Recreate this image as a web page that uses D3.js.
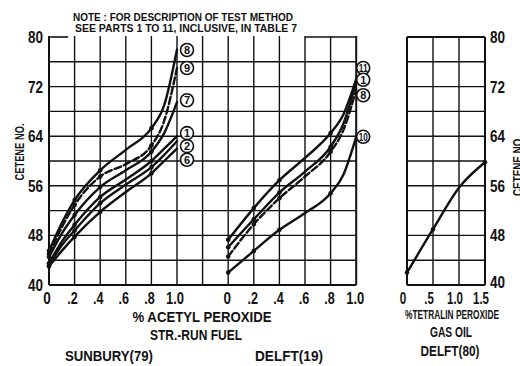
<!DOCTYPE html>
<html><head><meta charset="utf-8">
<script src="https://cdn.jsdelivr.net/npm/d3@7"></script>
<style>
html,body{margin:0;padding:0;background:#fff;}
svg{display:block;}
text{font-family:"Liberation Sans Narrow","Liberation Sans",Arial,sans-serif;font-weight:bold;fill:#111;}
</style></head>
<body><svg id="c" width="520" height="366"></svg>
<script>
// ---------- data ----------
const yTicks = [40, 48, 56, 64, 72, 80];
const yGridValues = [40, 44, 48, 52, 56, 60, 64, 68, 72, 76, 80];
const peroxTickValues = [0, 0.2, 0.4, 0.6, 0.8, 1.0];
const peroxTickLabels = ["0", ".2", ".4", ".6", ".8", "1.0"];
const gasTickValues = [0, 0.5, 1.0, 1.5];
const gasTickLabels = ["0", ".5", "1.0", "1.5"];

// Sunbury (79) straight-run fuel, % acetyl peroxide
const sunburyX = [0, 0.1, 0.2, 0.4, 0.6, 0.8, 0.9, 1.0];
const sun8 = [45.5, 50.0, 53.7, 58.5, 61.8, 65.3, 69.0, 78.0];
const sun9 = [45.0, 49.3, 52.9, 57.5, 59.5, 62.5, 66.5, 75.0];
const sun7 = [44.5, 48.3, 51.3, 55.8, 58.5, 61.5, 64.5, 69.5];
const sun1 = [43.5, 47.0, 49.7, 54.2, 57.0, 60.0, 62.0, 64.0];
const sun2 = [43.2, 46.4, 48.8, 53.2, 56.2, 59.0, 61.0, 63.2];
const sun6 = [43.0, 45.5, 47.8, 51.8, 55.0, 58.0, 60.0, 62.0];
const sunLabels = ["8", "9", "7", "1", "2", "6"];
const sunLabelY = [77.9, 75.0, 69.8, 64.5, 62.4, 60.2];

// Delft (19) straight-run fuel, % acetyl peroxide
const delftX = [0, 0.2, 0.4, 0.6, 0.8, 0.9, 1.0];
const del11 = [47.3, 52.4, 56.9, 60.5, 64.5, 67.5, 73.2];
const del1 = [46.1, 50.6, 54.9, 58.3, 62.3, 66.0, 72.8];
const del8 = [44.6, 49.8, 54.0, 57.5, 61.5, 65.0, 71.5];
const del10 = [42.0, 45.5, 48.9, 51.6, 54.8, 57.8, 63.9];
const delLabels = ["11", "1", "8", "10"];
const delLabelY = [75.0, 73.1, 70.6, 63.9];

// Delft (80) gas oil, % tetralin peroxide
const gasX = [0, 0.5, 1.0, 1.5];
const gasCetene = [42.0, 49.0, 55.7, 59.8];

const dotX = [0, 0.2, 0.4, 0.5, 0.8, 1.5];

// ---------- layout ----------
const svg = d3.select("#c");
const ink = "#111";
const y = d3.scaleLinear().domain([40, 80]).range([285, 37]);
const xGrid = d3.scaleLinear().domain([0, 2.4]).range([49, 356.2]);
const xSun = d3.scaleLinear().domain([0, 1]).range([xGrid(0), xGrid(1)]);
const xDel = d3.scaleLinear().domain([0, 1]).range([xGrid(1.4), xGrid(2.4)]);
const xGas = d3.scaleLinear().domain([0, 1.5]).range([407, 485]);

const g = svg.append("g");

// grid: main block (two panels share one grid)
g.append("g").selectAll("line").data(d3.range(0, 2.41, 0.2)).join("line")
  .attr("x1", d => xGrid(d)).attr("x2", d => xGrid(d))
  .attr("y1", y(80) - 1).attr("y2", y(40))
  .attr("stroke", ink).attr("stroke-width", d => (d < 0.01 || d > 2.39) ? 2 : 1.4);
g.append("g").selectAll("line").data(yGridValues.filter(v => v < 80)).join("line")
  .attr("x1", xGrid(0)).attr("x2", xGrid(2.4))
  .attr("y1", d => y(d)).attr("y2", d => y(d))
  .attr("stroke", ink).attr("stroke-width", d => d === 40 ? 2 : 1.4);
// top edge (broken under the note)
[[0, 0.15], [2.0, 2.4]].forEach(s => {
  g.append("line").attr("x1", xGrid(s[0])).attr("x2", xGrid(s[1]))
    .attr("y1", y(80)).attr("y2", y(80)).attr("stroke", ink).attr("stroke-width", 1.6);
});

// grid: gas oil panel
g.append("g").selectAll("line").data([0, 0.5, 1.0, 1.5]).join("line")
  .attr("x1", d => xGas(d)).attr("x2", d => xGas(d))
  .attr("y1", y(80)).attr("y2", y(40))
  .attr("stroke", ink).attr("stroke-width", d => (d === 0 || d === 1.5) ? 2 : 1.4);
g.append("g").selectAll("line").data(yGridValues).join("line")
  .attr("x1", xGas(0)).attr("x2", xGas(1.5))
  .attr("y1", d => y(d)).attr("y2", d => y(d))
  .attr("stroke", ink).attr("stroke-width", d => (d === 40 || d === 80) ? 2 : 1.4);

// ---------- curves ----------
function drawSeries(xs, xv, yv, dashed) {
  const pts = xv.map((x, i) => [x, yv[i]]);
  const line = d3.line().x(d => xs(d[0])).y(d => y(d[1])).curve(d3.curveMonotoneX);
  g.append("path").attr("d", line(pts)).attr("fill", "none")
    .attr("stroke", ink).attr("stroke-width", 2.4)
    .attr("stroke-linecap", "round")
    .attr("stroke-dasharray", dashed ? "7,3" : null);
  g.append("g").selectAll("circle").data(pts.filter(p => dotX.some(v => Math.abs(v - p[0]) < 1e-6)))
    .join("circle").attr("cx", d => xs(d[0])).attr("cy", d => y(d[1])).attr("r", 2.3).attr("fill", ink);
}
[[sun6, false], [sun2, false], [sun1, false], [sun7, false], [sun9, true], [sun8, false]]
  .forEach(s => drawSeries(xSun, sunburyX, s[0], s[1]));
[[del10, false], [del8, true], [del1, false], [del11, false]]
  .forEach(s => drawSeries(xDel, delftX, s[0], s[1]));
drawSeries(xGas, gasX, gasCetene, false);

// circled curve numbers
function circled(xpx, labels, vals) {
  const lg = g.append("g").selectAll("g").data(labels.map((l, i) => [l, vals[i]])).join("g")
    .attr("transform", d => `translate(${xpx},${y(d[1])})`);
  lg.append("circle").attr("r", 6.5).attr("fill", "#fff").attr("stroke", ink).attr("stroke-width", 1.6);
  lg.append("text").attr("text-anchor", "middle").attr("y", 3.8)
    .style("font-size", d => d[0].length > 1 ? "10px" : "11px")
    .attr("textLength", d => d[0].length > 1 ? 9 : null)
    .attr("lengthAdjust", "spacingAndGlyphs").text(d => d[0]);
}
circled(xSun(1) + 10, sunLabels, sunLabelY);
circled(xDel(1) + 7, delLabels, delLabelY);

// ---------- tick labels ----------
function tickText(sel, txt, per) {
  sel.style("font-size", "16.5px")
    .attr("textLength", d => { const t = txt(d); return t.replace(/\./g, "").length * per + (t.includes(".") ? 3 : 0); })
    .attr("lengthAdjust", "spacingAndGlyphs").text(txt);
}
svg.append("g").selectAll("text").data(yTicks).join("text")
  .attr("x", 43).attr("y", d => y(d) + 6).attr("text-anchor", "end")
  .call(tickText, d => String(d), 7.5);
svg.append("g").selectAll("text").data(yTicks).join("text")
  .attr("x", 490).attr("y", d => y(d) + (d === 40 ? 3 : 6)).attr("text-anchor", "start")
  .call(tickText, d => String(d), 7.5);
svg.append("g").selectAll("text").data(peroxTickValues.map((v, i) => [v, peroxTickLabels[i]])).join("text")
  .attr("x", d => xSun(d[0]) - 2).attr("y", 304).attr("text-anchor", "middle")
  .call(tickText, d => d[1], 7.5);
svg.append("g").selectAll("text").data(peroxTickValues.map((v, i) => [v, peroxTickLabels[i]])).join("text")
  .attr("x", d => xDel(d[0]) - 1).attr("y", 304).attr("text-anchor", "middle")
  .call(tickText, d => d[1], 7.5);
svg.append("g").selectAll("text").data(gasTickValues.map((v, i) => [v, gasTickLabels[i]])).join("text")
  .attr("x", d => xGas(d[0]) - 4).attr("y", 304).attr("text-anchor", "middle")
  .call(tickText, d => d[1], 6.5);

// ---------- titles ----------
function label(txt, x, base, size, len, anchor) {
  svg.append("text").attr("x", x).attr("y", base).attr("text-anchor", anchor || "middle")
    .style("font-size", size + "px")
    .attr("textLength", len).attr("lengthAdjust", "spacingAndGlyphs").text(txt);
}
label("% ACETYL PEROXIDE", 202, 322, 15, 139);
label("STR.-RUN FUEL", 196, 340, 15, 92);
label("SUNBURY(79)", 109, 361, 15, 88);
label("DELFT(19)", 289, 361, 15, 68);
label("%TETRALIN PEROXIDE", 499, 319, 13, 94, "end");
label("GAS OIL", 451, 337, 14, 42);
label("DELFT(80)", 450, 356, 14, 59);

svg.append("text").attr("x", 73).attr("y", 21).style("font-size", "11px")
  .attr("textLength", 220).attr("lengthAdjust", "spacingAndGlyphs")
  .text("NOTE : FOR DESCRIPTION OF TEST METHOD");
svg.append("text").attr("x", 75).attr("y", 32).style("font-size", "11px")
  .attr("textLength", 222).attr("lengthAdjust", "spacingAndGlyphs")
  .text("SEE PARTS 1 TO 11, INCLUSIVE, IN TABLE 7");

svg.append("text").attr("transform", "translate(24,152) rotate(-90)")
  .attr("text-anchor", "middle").style("font-size", "13px")
  .attr("textLength", 57).attr("lengthAdjust", "spacingAndGlyphs").text("CETENE NO.");
svg.append("text").attr("transform", "translate(522,166) rotate(-90)")
  .attr("text-anchor", "middle").style("font-size", "13px")
  .attr("textLength", 60).attr("lengthAdjust", "spacingAndGlyphs").text("CETENE NO.");
</script></body></html>
